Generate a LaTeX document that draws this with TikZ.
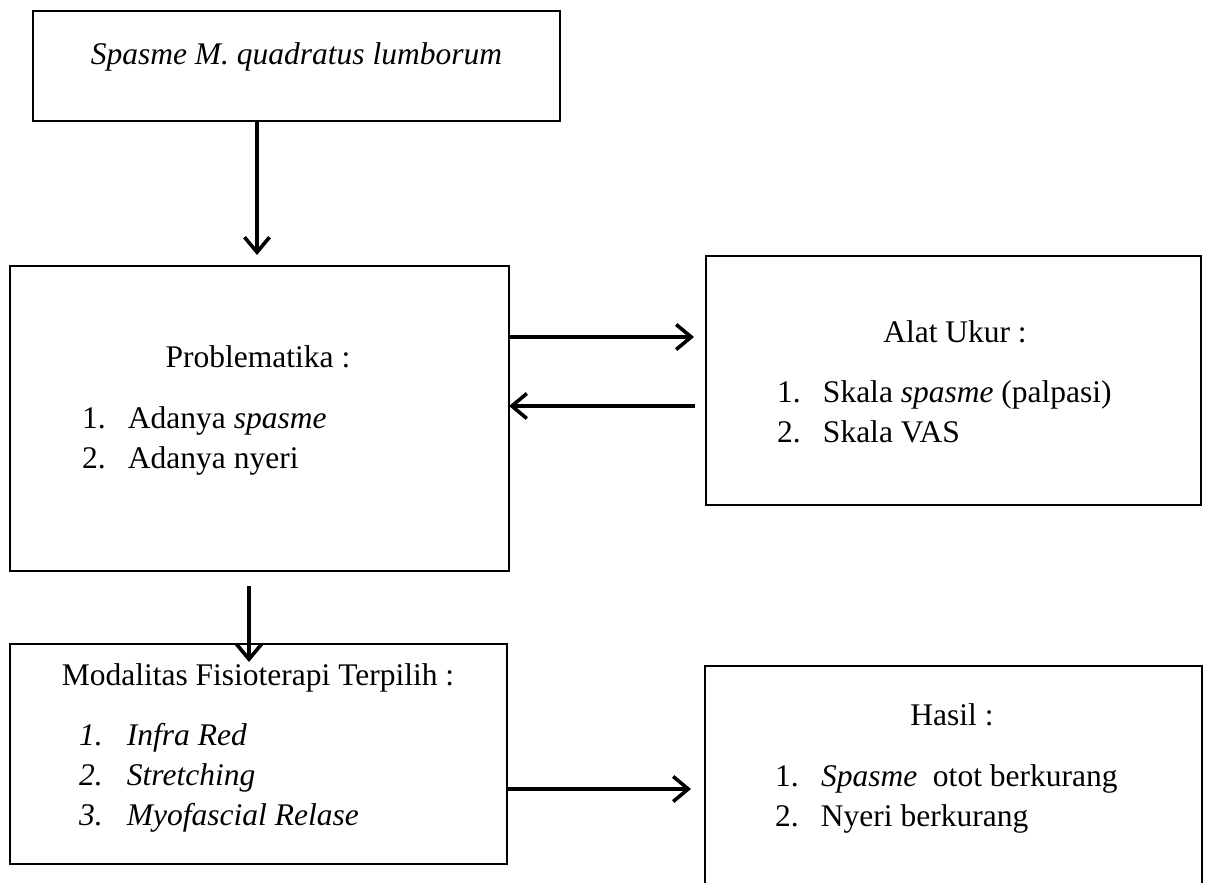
\documentclass[tikz,border=0pt]{standalone}
\usepackage{fontspec}
\setmainfont{Liberation Serif}
\usetikzlibrary{arrows.meta}
\begin{document}
\begin{tikzpicture}[x=1pt,y=-1pt,
  box/.style={draw=black, line width=2.8pt, rectangle, inner sep=0pt, outer sep=0pt},
  txt/.style={inner sep=0pt, outer sep=0pt, font=\fontsize{31.5}{40}\selectfont},
  arr/.style={draw=black, line width=3.6pt, -{Straight Barb[length=15pt,width=25pt]}}]
\useasboundingbox (0,0) rectangle (1205,883);
\fill[white] (0,0) rectangle (1205,883);
\clip (0,0) rectangle (1205,883);
% boxes
\node[box, minimum width=527pt, minimum height=110pt] (b1) at (296.5,66) {};
\node[box, minimum width=499pt, minimum height=305pt] (b2) at (259.5,418.5) {};
\node[box, minimum width=495pt, minimum height=249pt] (b3) at (953.5,380.5) {};
\node[box, minimum width=497pt, minimum height=220pt] (b4) at (258.5,754) {};
\node[box, minimum width=497pt, minimum height=284pt] (b5) at (953.5,808) {};
% texts
\node[txt, anchor=base] (t1) at (296.5,65) {\textit{Spasme M. quadratus lumborum}};
\node[txt, anchor=base] (t2) at (258,367) {Problematika :};
\node[txt, anchor=base west] (t2a) at (82,428) {\makebox[46pt][l]{1.}Adanya \textit{spasme}};
\node[txt, anchor=base west] (t2b) at (82,468) {\makebox[46pt][l]{2.}Adanya nyeri};
\node[txt, anchor=base] (t3) at (955,342) {Alat Ukur :};
\node[txt, anchor=base west] (t3a) at (777,402) {\makebox[46pt][l]{1.}Skala \textit{spasme} (palpasi)};
\node[txt, anchor=base west] (t3b) at (777,442) {\makebox[46pt][l]{2.}Skala VAS};
\node[txt, anchor=base] (t4) at (258,685) {Modalitas Fisioterapi Terpilih :};
\node[txt, anchor=base west] (t4a) at (79,745) {\textit{\makebox[48pt][l]{1.}Infra Red}};
\node[txt, anchor=base west] (t4b) at (79,785) {\textit{\makebox[48pt][l]{2.}Stretching}};
\node[txt, anchor=base west] (t4c) at (79,825) {\textit{\makebox[48pt][l]{3.}Myofascial Relase}};
\node[txt, anchor=base] (t5) at (952,725) {Hasil :};
\node[txt, anchor=base west] (t5a) at (775,786) {\makebox[46pt][l]{1.}\textit{Spasme}\ \ otot berkurang};
\node[txt, anchor=base west] (t5b) at (775,826) {\makebox[46pt][l]{2.}Nyeri berkurang};
% connectors
\coordinate (c1) at (257,255);
\draw[arr] (b1.south -| c1) -- (c1);
\coordinate (c2) at (694,337);
\draw[arr] (b2.east |- c2) -- (c2);
\coordinate (c3) at (695,406);
\draw[arr] (c3) -- (b2.east |- c3);
\coordinate (c4s) at (249,586);
\coordinate (c4) at (249,662);
\draw[arr] (c4s) -- (c4);
\coordinate (c5) at (691,789);
\draw[arr] (b4.east |- c5) -- (c5);
\end{tikzpicture}
\end{document}
